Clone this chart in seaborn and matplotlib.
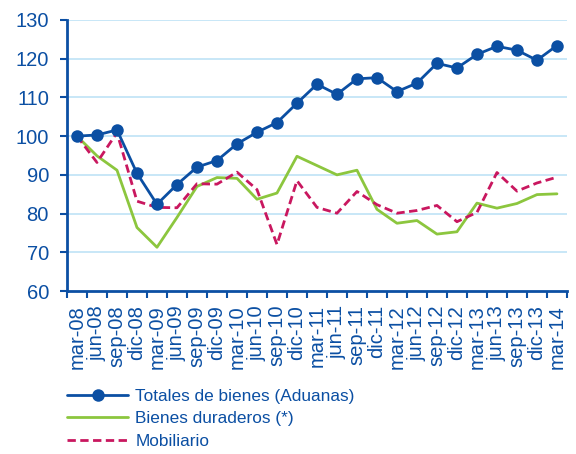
import matplotlib
matplotlib.use("Agg")
import matplotlib.pyplot as plt
import seaborn as sns
import pandas as pd
import numpy as np
from matplotlib.ticker import FixedLocator
from matplotlib.lines import Line2D

categories = ["mar-08", "jun-08", "sep-08", "dic-08", "mar-09", "jun-09", "sep-09", "dic-09",
              "mar-10", "jun-10", "sep-10", "dic-10", "mar-11", "jun-11", "sep-11", "dic-11",
              "mar-12", "jun-12", "sep-12", "dic-12", "mar-13", "jun-13", "sep-13", "dic-13",
              "mar-14"]
totales = [100.0, 100.3, 101.6, 90.4, 82.4, 87.5, 92.0, 93.7, 98.0, 101.0, 103.5, 108.5,
           113.4, 110.8, 114.8, 115.1, 111.5, 113.7, 118.8, 117.6, 121.1, 123.2, 122.2, 119.6, 123.4]
duraderos = [100.0, 94.9, 91.2, 76.4, 71.3, 79.0, 87.0, 89.3, 89.1, 83.7, 85.3, 94.8,
             92.4, 90.0, 91.2, 81.1, 77.5, 78.2, 74.7, 75.3, 82.7, 81.4, 82.6, 84.9, 85.1]
mobiliario = [100.0, 93.2, 100.9, 83.2, 81.6, 81.5, 87.7, 87.6, 90.7, 86.2, 72.0, 88.5,
              81.6, 80.1, 85.7, 82.3, 80.1, 80.8, 82.1, 77.9, 80.3, 90.6, 85.8, 87.9, 89.4]
series_names = ["Totales de bienes (Aduanas)", "Bienes duraderos (*)", "Mobiliario"]

BLUE = "#0b4fa3"
GREEN = "#8cc63e"
RED = "#c9175f"
GRID = "#bfe3f6"

sns.set_theme(style="white")
plt.rcParams["font.family"] = ["Liberation Sans", "DejaVu Sans"]

x = np.arange(len(categories))
df = pd.DataFrame({
    "x": np.concatenate([x, x, x]),
    "value": totales + duraderos + mobiliario,
    "serie": [series_names[0]] * len(x) + [series_names[1]] * len(x) + [series_names[2]] * len(x),
})

fig = plt.figure(figsize=(5.76, 4.54), dpi=100)
ax = fig.add_axes([0.1163, 0.359, 0.868, 0.597])

for val in [70, 80, 90, 100, 110, 120, 130]:
    ax.axhline(val, color=GRID, lw=1.2, zorder=0)

sns.lineplot(data=df[df.serie == series_names[1]], x="x", y="value", ax=ax, color=GREEN,
             lw=2.0, label=series_names[1], legend=False, zorder=2)
sns.lineplot(data=df[df.serie == series_names[2]], x="x", y="value", ax=ax, color=RED,
             lw=2.0, label=series_names[2], legend=False, zorder=3)
ax.lines[-1].set_dashes([3.0, 1.6])
sns.lineplot(data=df[df.serie == series_names[0]], x="x", y="value", ax=ax, color=BLUE,
             lw=2.0, marker="o", markersize=9, markeredgewidth=0, label=series_names[0],
             legend=False, zorder=4)

ax.set_xlim(-0.5, len(categories) - 0.5)
ax.set_ylim(60, 130)
ax.set_yticks([60, 70, 80, 90, 100, 110, 120, 130])
ax.set_xticks(x)
ax.set_xticklabels(categories, rotation=90, fontsize=14.5, color=BLUE)
ax.xaxis.set_minor_locator(FixedLocator(np.arange(-0.5, len(categories), 1.0)))
ax.tick_params(axis="x", which="major", length=0, pad=10)
ax.tick_params(axis="x", which="minor", length=5, width=1.5, color=BLUE, direction="out", bottom=True)
ax.tick_params(axis="y", length=5, width=1.5, color=BLUE, direction="out", left=True,
               labelsize=14.5, labelcolor=BLUE, pad=8)
ax.set_xlabel("")
ax.set_ylabel("")
for s in ["top", "right"]:
    ax.spines[s].set_visible(False)
for s in ["left", "bottom"]:
    ax.spines[s].set_color(BLUE)
    ax.spines[s].set_linewidth(2)

h0 = Line2D([], [], color=BLUE, lw=2.0, marker="o", markersize=9, markeredgewidth=0)
h1 = Line2D([], [], color=GREEN, lw=2.0)
h2 = Line2D([], [], color=RED, lw=2.0, dashes=[3.0, 1.6])
fig.legend([h0, h1, h2], series_names, loc="upper left", bbox_to_anchor=(0.117, 0.143),
           frameon=False, fontsize=12.4, handlelength=3.5, handletextpad=0.45,
           labelspacing=0.42, labelcolor=BLUE, borderaxespad=0, borderpad=0)

fig.savefig("out.png", dpi=100)
